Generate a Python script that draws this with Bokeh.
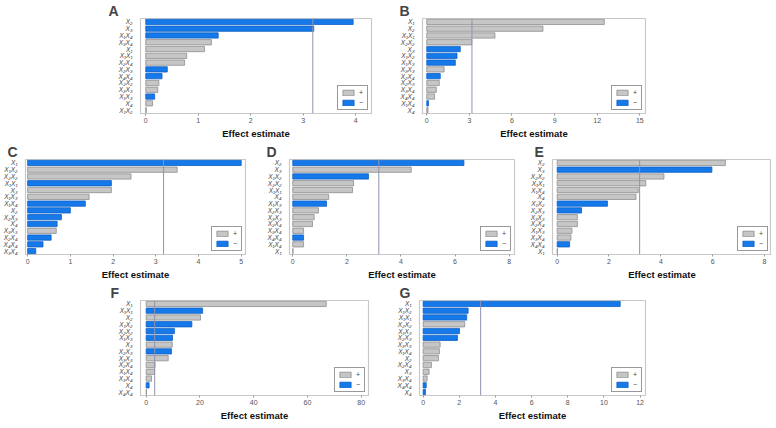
from bokeh.plotting import figure
from bokeh.models import FactorRange, Range1d, Span, FixedTicker, ColumnDataSource, Spacer, Legend
from bokeh.layouts import row, column
from bokeh.embed import file_html
from bokeh.resources import INLINE

# ---------------- data ----------------
labels_A = ["X₂", "X₃", "X₁X₄", "X₃X₄", "X₁", "X₁X₁", "X₂X₄", "X₂X₃", "X₄X₄", "X₂X₂", "X₃X₃", "X₁X₃", "X₄", "X₁X₂"]
effects_A = [3.95, 3.20, 1.38, 1.25, 1.12, 0.78, 0.74, 0.41, 0.31, 0.25, 0.23, 0.17, 0.13, 0.01]
signs_A = ["-", "-", "-", "+", "+", "+", "+", "-", "-", "+", "+", "-", "+", "+"]

labels_B = ["X₁", "X₂", "X₁X₁", "X₂X₂", "X₃", "X₁X₂", "X₁X₃", "X₃X₃", "X₂X₄", "X₂X₃", "X₃X₄", "X₄X₄", "X₁X₄", "X₄"]
effects_B = [12.5, 8.18, 4.80, 3.17, 2.36, 2.13, 2.01, 1.22, 0.95, 0.88, 0.67, 0.55, 0.12, 0.09]
signs_B = ["+", "+", "+", "+", "-", "-", "-", "+", "-", "+", "+", "+", "-", "+"]

labels_C = ["X₁", "X₁X₂", "X₂X₂", "X₁X₁", "X₃", "X₁X₃", "X₁X₄", "X₂", "X₂X₃", "X₄", "X₃X₃", "X₂X₄", "X₄X₄", "X₃X₄"]
effects_C = [5.00, 3.50, 2.42, 1.96, 1.96, 1.44, 1.35, 1.00, 0.79, 0.69, 0.67, 0.55, 0.36, 0.19]
signs_C = ["-", "+", "+", "-", "+", "+", "-", "-", "-", "-", "+", "-", "-", "-"]

labels_D = ["X₂", "X₃", "X₁X₂", "X₂X₂", "X₁X₁", "X₄", "X₁X₃", "X₂X₃", "X₃X₃", "X₂X₄", "X₃X₄", "X₄X₄", "X₁X₄", "X₁"]
effects_D = [6.33, 4.38, 2.80, 2.25, 2.21, 1.33, 1.25, 0.95, 0.79, 0.73, 0.40, 0.40, 0.40, 0.01]
signs_D = ["-", "+", "-", "+", "+", "+", "-", "+", "+", "+", "+", "-", "+", "+"]

labels_E = ["X₂", "X₃", "X₂X₂", "X₁X₁", "X₁X₄", "X₄", "X₁X₂", "X₂X₃", "X₃X₃", "X₂X₄", "X₁X₃", "X₃X₄", "X₄X₄", "X₁"]
effects_E = [6.49, 5.97, 4.12, 3.42, 3.13, 3.04, 1.94, 0.94, 0.78, 0.78, 0.57, 0.53, 0.48, 0.01]
signs_E = ["+", "-", "+", "+", "+", "+", "-", "-", "+", "+", "+", "+", "-", "+"]

labels_F = ["X₁", "X₁X₁", "X₂", "X₁X₂", "X₂X₂", "X₁X₃", "X₃", "X₂X₃", "X₃X₃", "X₂X₄", "X₁X₄", "X₃X₄", "X₄", "X₄X₄"]
effects_F = [67.0, 21.0, 20.2, 17.0, 10.5, 9.8, 9.7, 9.4, 8.2, 3.3, 3.1, 2.0, 1.1, 0.1]
signs_F = ["+", "-", "+", "-", "-", "-", "+", "-", "+", "+", "+", "+", "-", "+"]

labels_G = ["X₁", "X₁X₂", "X₁X₁", "X₂X₂", "X₁X₃", "X₂X₃", "X₃X₃", "X₁X₄", "X₂", "X₂X₄", "X₃", "X₃X₄", "X₄X₄", "X₄"]
effects_G = [10.9, 2.49, 2.41, 2.30, 2.01, 1.90, 0.94, 0.90, 0.85, 0.46, 0.33, 0.22, 0.17, 0.13]
signs_G = ["-", "-", "-", "+", "-", "-", "+", "+", "+", "+", "+", "+", "-", "-"]

t_critical = 3.182
x_label = "Effect estimate"

BLUE = "#1579ea"
BLUE_LINE = "#0f5fc4"
GRAY = "#c6c6c6"
GRAY_LINE = "#8e8e8e"
FONT = "Liberation Sans"

FRAME_H = 95
TOP = 11
BOTTOM = 26


def panel(letter, labels, effects, signs, x0, x1, ticks, frame_w, left, right, title_off):
    factors = list(reversed(labels))
    p = figure(y_range=FactorRange(factors=factors), x_range=Range1d(x0, x1),
               frame_width=frame_w, frame_height=FRAME_H,
               min_border_left=left, min_border_right=right,
               min_border_top=TOP, min_border_bottom=BOTTOM,
               output_backend="svg", toolbar_location=None)
    pos = dict(y=[l for l, s in zip(labels, signs) if s == "+"],
               x=[e for e, s in zip(effects, signs) if s == "+"])
    neg = dict(y=[l for l, s in zip(labels, signs) if s == "-"],
               x=[e for e, s in zip(effects, signs) if s == "-"])
    r_pos = p.hbar(y="y", right="x", left=0, height=0.78, source=ColumnDataSource(pos),
                   fill_color=GRAY, line_color=GRAY_LINE, line_width=0.8)
    r_neg = p.hbar(y="y", right="x", left=0, height=0.78, source=ColumnDataSource(neg),
                   fill_color=BLUE, line_color=BLUE_LINE, line_width=0.8)
    p.add_layout(Span(location=t_critical, dimension="height",
                      line_color="#8f93ad", line_width=1))
    leg = Legend(items=[("+", [r_pos]), ("\u2212", [r_neg])], location="bottom_right",
                 glyph_width=14, glyph_height=7, label_height=7, label_width=5,
                 label_standoff=4,
                 label_text_font_size="7px", label_text_font=FONT,
                 padding=3, spacing=3, margin=3,
                 border_line_color="#333333", border_line_width=1,
                 background_fill_alpha=1)
    p.add_layout(leg)

    p.title.text = letter
    p.title.text_font = FONT
    p.title.text_font_size = "14px"
    p.title.text_font_style = "bold"
    p.title.align = "left"
    p.title.offset = -title_off
    p.title.standoff = 0

    p.xgrid.visible = False
    p.ygrid.visible = False
    p.outline_line_color = "#c8c8c8"
    p.outline_line_width = 1.2
    p.background_fill_color = "white"

    xa = p.xaxis[0]
    xa.ticker = FixedTicker(ticks=ticks)
    xa.axis_line_color = None
    xa.major_tick_line_color = "#999999"
    xa.major_tick_out = 2
    xa.major_tick_in = 0
    xa.minor_tick_line_color = None
    xa.major_label_text_font = FONT
    xa.major_label_text_font_size = "7px"
    xa.major_label_text_color = "#555555"
    xa.major_label_standoff = 2
    xa.axis_label = x_label
    xa.axis_label_text_font = FONT
    xa.axis_label_text_font_size = "9.5px"
    xa.axis_label_text_font_style = "bold"
    xa.axis_label_text_color = "#111111"
    xa.axis_label_standoff = 2

    ya = p.yaxis[0]
    ya.axis_line_color = None
    ya.major_tick_line_color = None
    ya.minor_tick_line_color = None
    ya.major_label_text_font = FONT
    ya.major_label_text_font_size = "6.5px"
    ya.major_label_text_font_style = "italic"
    ya.major_label_text_color = "#444444"
    ya.major_label_standoff = 2
    return p


pA = panel("A", labels_A, effects_A, signs_A, -0.1, 4.3, [0, 1, 2, 3, 4], 231, 32, 5, 32)
pB = panel("B", labels_B, effects_B, signs_B, -0.3, 15.4, [0, 3, 6, 9, 12, 15], 223, 23, 5, 23)
pC = panel("C", labels_C, effects_C, signs_C, -0.05, 5.1, [0, 1, 2, 3, 4, 5], 220, 18, 5, 18)
pD = panel("D", labels_D, effects_D, signs_D, -0.12, 8.2, [0, 2, 4, 6, 8], 225, 23, 5, 23)
pE = panel("E", labels_E, effects_E, signs_E, -0.18, 8.27, [0, 2, 4, 6, 8], 219, 23, 0, 18)
pF = panel("F", labels_F, effects_F, signs_F, -2.1, 82.7, [0, 20, 40, 60, 80], 228, 32, 5, 30)
pG = panel("G", labels_G, effects_G, signs_G, -0.2, 12.3, [0, 2, 4, 6, 8, 10, 12], 226, 23, 5, 20)

layout = column(
    row(Spacer(width=108), pA, Spacer(width=21), pB),
    row(pC, Spacer(width=14), pD, Spacer(width=8), pE),
    row(Spacer(width=108), pF, Spacer(width=21), pG),
)

open("out.html", "w").write(file_html(layout, INLINE))
